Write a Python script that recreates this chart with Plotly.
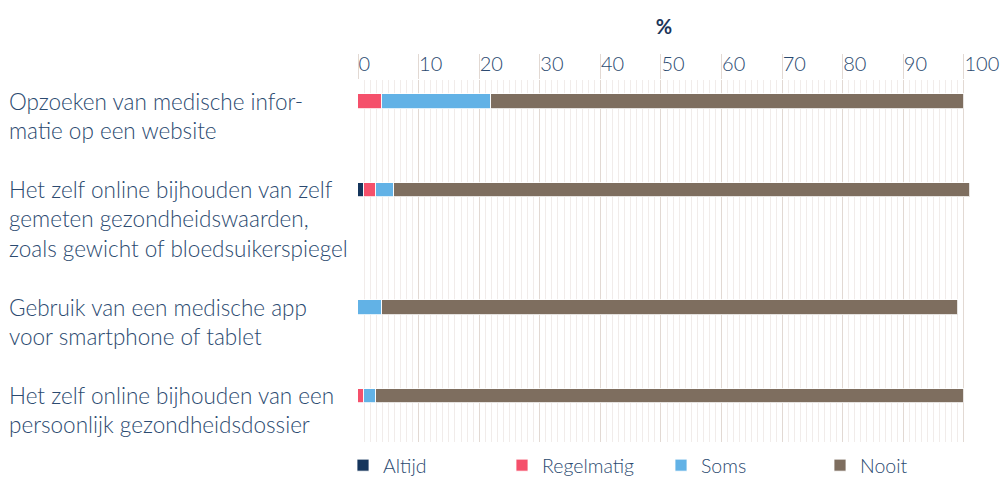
import plotly.graph_objects as go

categories = [
    "Opzoeken van medische infor-<br>matie op een website",
    "Het zelf online bijhouden van zelf<br>gemeten gezondheidswaarden,<br>zoals gewicht of bloedsuikerspiegel",
    "Gebruik van een medische app<br>voor smartphone of tablet",
    "Het zelf online bijhouden van een<br>persoonlijk gezondheidsdossier",
]
altijd = [0, 1, 0, 0]
regelmatig = [4, 2, 0, 1]
soms = [18, 3, 4, 2]
nooit = [78, 95, 95, 97]
series = [("Altijd", altijd), ("Regelmatig", regelmatig), ("Soms", soms), ("Nooit", nooit)]
tick_vals = list(range(0, 101, 10))

colors = {"Altijd": "#15355c", "Regelmatig": "#f5506b", "Soms": "#62b2e6", "Nooit": "#7e6e5f"}
TEXT = "#2b4a70"
FONT = "Lato"

# row layout in "text line" units: each category takes its line count plus a gap
GAP = 1.1
line_counts = [c.count("<br>") + 1 for c in categories]
row_tops = []
acc = 0.0
for n in line_counts:
    row_tops.append(acc)
    acc += n + GAP
bar_pos = [t + 0.5 for t in row_tops]

fig = go.Figure()
for name, vals in series:
    fig.add_trace(go.Bar(
        y=bar_pos, x=vals, orientation="h", name=name, width=0.5,
        marker=dict(color=colors[name], line=dict(color="rgba(255,255,255,0.8)", width=1)),
        hoverinfo="x+name",
    ))

for cat, top in zip(categories, row_tops):
    fig.add_annotation(
        text=cat, xref="paper", x=-0.5735, xanchor="left", yref="y", y=top - 0.05,
        yanchor="top", align="left", showarrow=False,
        font=dict(family=FONT, size=22.5, color=TEXT, weight=300),
    )

fig.update_layout(
    width=1006, height=479,
    margin=dict(l=358, r=36, t=80, b=37, autoexpand=False),
    paper_bgcolor="white", plot_bgcolor="white",
    barmode="stack", bargap=0,
    showlegend=True,
    font=dict(family=FONT, color=TEXT),
    title=dict(text="<b>%</b>", x=0.5, xref="paper", y=1 - 27 / 479, yref="container",
               xanchor="center", yanchor="middle",
               font=dict(family=FONT, size=20, color="#1b355a")),
    legend=dict(orientation="h", x=-0.0245, xanchor="left",
                y=-0.011, yanchor="top",
                entrywidth=114, entrywidthmode="pixels", traceorder="normal",
                font=dict(family=FONT, size=19.5, color=TEXT, weight=300), itemclick=False),
    xaxis=dict(
        side="top", range=[0, 101], tickvals=tick_vals, showline=False, zeroline=False,
        showgrid=True, gridcolor="#e2d9d3", gridwidth=1, automargin=False,
        ticks="outside", ticklen=25, tickcolor="#e2d9d3", tickwidth=1,
        ticklabelposition="outside right", ticklabelstandoff=0,
        tickfont=dict(family=FONT, size=20, color=TEXT, weight=300),
        minor=dict(dtick=1, showgrid=True, gridcolor="#f1ecea", gridwidth=1),
        fixedrange=True,
    ),
    yaxis=dict(
        range=[bar_pos[-1] + 1.6, -0.25], showticklabels=False, showgrid=False,
        zeroline=False, showline=False, fixedrange=True, automargin=False,
    ),
)

fig.write_html("out.html", config={"displayModeBar": False},
               post_script="document.body.style.margin='0px';")
